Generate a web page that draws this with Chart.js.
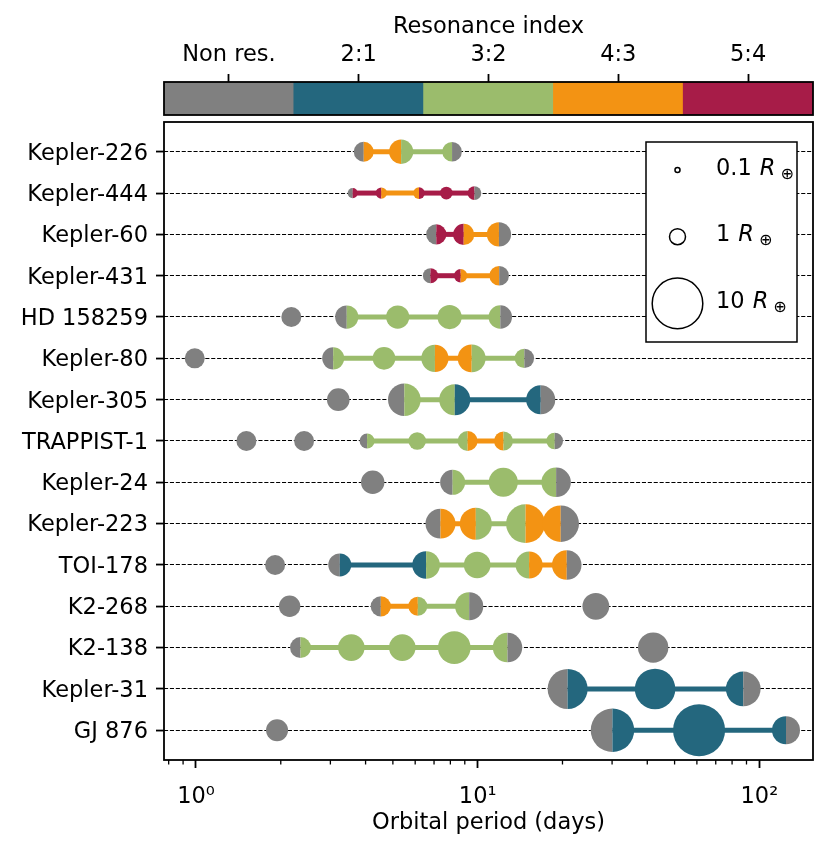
<!DOCTYPE html>
<html><head><meta charset="utf-8">
<script src="https://cdn.jsdelivr.net/npm/chart.js@4/dist/chart.umd.min.js"></script>
<style>
html,body{margin:0;padding:0;background:#fff;}
#wrap{position:relative;width:830px;height:850px;}
#main{position:absolute;left:0;top:0;}
#cbar{position:absolute;left:0;top:0;}
</style></head><body>
<div id="wrap"><canvas id="main" width="830" height="850"></canvas><canvas id="cbar" width="830" height="120"></canvas></div>
<script>
// ---- data ----
const systems = ['Kepler-226','Kepler-444','Kepler-60','Kepler-431','HD 158259','Kepler-80','Kepler-305','TRAPPIST-1','Kepler-24','Kepler-223','TOI-178','K2-268','K2-138','Kepler-31','GJ 876'];
const periods = [
  [3.94, 5.35, 8.11],
  [3.60, 4.55, 6.19, 7.74, 9.74],
  [7.13, 8.92, 11.90],
  [6.80, 8.70, 11.92],
  [2.18, 3.43, 5.20, 7.95, 12.03],
  [0.99, 3.07, 4.65, 7.05, 9.52, 14.65],
  [3.20, 5.49, 8.29, 16.74],
  [1.51, 2.42, 4.05, 6.10, 9.21, 12.35, 18.77],
  [4.24, 8.15, 12.33, 18.99],
  [7.38, 9.85, 14.79, 19.72],
  [1.91, 3.24, 6.56, 9.96, 15.23, 20.71],
  [2.15, 4.53, 6.13, 9.33, 26.27],
  [2.35, 3.56, 5.40, 8.26, 12.76, 41.97],
  [20.86, 42.63, 87.65],
  [1.94, 30.09, 61.08, 124.3]
];
// planet radii (Earth radii)
const radii = [
  [1.55, 2.3, 1.5],
  [0.40, 0.50, 0.53, 0.63, 0.74],
  [1.6, 1.75, 2.3],
  [0.9, 0.7, 1.5],
  [1.56, 2.1, 2.1, 2.3, 2.15],
  [1.56, 1.9, 2.0, 2.9, 3.05, 1.47],
  [2.0, 4.15, 3.75, 3.3],
  [1.56, 1.56, 0.88, 1.2, 1.56, 1.4, 1.08],
  [2.14, 2.44, 3.3, 3.4],
  [3.5, 4.0, 5.9, 5.2],
  [1.56, 2.07, 2.98, 2.76, 2.85, 3.4],
  [1.8, 1.6, 1.4, 3.1, 2.8],
  [1.72, 2.76, 2.76, 4.15, 3.4, 3.6],
  [6.25, 6.4, 4.7],
  [1.9, 7.4, 10.6, 3.06]
];
// resonance index of each adjacent pair: 0 non res, 1 2:1, 2 3:2, 3 4:3, 4 5:4
const pairRes = [
  [3,2],
  [4,3,4,4],
  [4,3],
  [4,3],
  [0,2,2,2],
  [0,2,2,3,2],
  [0,2,1],
  [0,0,2,2,3,2],
  [0,2,2],
  [3,2,3],
  [0,1,2,2,3],
  [0,3,2,0],
  [2,2,2,2,0],
  [1,1],
  [0,1,1]
];
const resLabels = ['Non res.','2:1','3:2','4:3','5:4'];
const resColors = ['#808080','#24677e','#9bbc6c','#f39313','#a71c48'];
const colorbarValues = [1,1,1,1,1];
const xTickValues = [1,10,100];
const xTickLabels = ['10\u2070','10\u00b9','10\u00b2'];
const xMinorTicks = [0.8,0.9,2,3,4,5,6,7,8,9,20,30,40,50,60,70,80,90];
const legendSizes = [0.1,1,10];
const legendLabels = ['0.1','1','10'];

// ---- styling helpers ----
const FONT = "'DejaVu Sans', sans-serif";
const FS = 22.5;
Chart.defaults.font.family = FONT;
Chart.defaults.font.size = FS;
Chart.defaults.color = '#000';
function radiusPx(R){ return 8*Math.sqrt(R); }

const planetPoints = [];
systems.forEach((s, si) => {
  const ps = periods[si];
  ps.forEach((p, pi) => {
    const left = pi > 0 ? pairRes[si][pi-1] : 0;
    const right = pi < ps.length-1 ? pairRes[si][pi] : 0;
    planetPoints.push({x: p, y: si, rad: radii[si][pi], left, right});
  });
});
const lineDatasets = [];
systems.forEach((s, si) => {
  pairRes[si].forEach((res, k) => {
    if (res > 0) {
      lineDatasets.push({
        type: 'line', showLine: true,
        data: [{x: periods[si][k], y: si}, {x: periods[si][k+1], y: si}],
        borderColor: resColors[res], borderWidth: 5, pointRadius: 0,
        fill: false, tension: 0, borderCapStyle: 'butt'
      });
    }
  });
});

const framePlugin = {id:'frame', afterDraw(chart){
  const {ctx, chartArea: ca} = chart;
  ctx.save(); ctx.strokeStyle = '#000'; ctx.lineWidth = 1.8;
  ctx.strokeRect(ca.left, ca.top, ca.right-ca.left, ca.bottom-ca.top);
  ctx.restore();
}};
const minorTicksPlugin = {id:'minorTicks', afterDraw(chart){
  const xs = chart.scales.x, ctx = chart.ctx, ca = chart.chartArea;
  ctx.save(); ctx.strokeStyle = '#000'; ctx.lineWidth = 1.3;
  xMinorTicks.forEach(v => {
    const px = xs.getPixelForValue(v);
    if (px < ca.left || px > ca.right) return;
    ctx.beginPath(); ctx.moveTo(px, ca.bottom); ctx.lineTo(px, ca.bottom + 4.5); ctx.stroke();
  });
  ctx.restore();
}};
const planetPlugin = {id:'planets', afterDatasetsDraw(chart){
  const meta = chart.getDatasetMeta(0);
  const ctx = chart.ctx;
  ctx.save();
  meta.data.forEach((el, i) => {
    const p = planetPoints[i];
    const r = el.options.radius;
    if (p.left === p.right) {
      ctx.fillStyle = resColors[p.left];
      ctx.beginPath(); ctx.arc(el.x, el.y, r, 0, 2*Math.PI); ctx.fill();
    } else {
      ctx.fillStyle = resColors[p.left];
      ctx.beginPath(); ctx.moveTo(el.x, el.y); ctx.arc(el.x, el.y, r, Math.PI/2, Math.PI*1.5); ctx.closePath(); ctx.fill();
      ctx.fillStyle = resColors[p.right];
      ctx.beginPath(); ctx.moveTo(el.x, el.y); ctx.arc(el.x, el.y, r, -Math.PI/2, Math.PI/2); ctx.closePath(); ctx.fill();
    }
  });
  ctx.restore();
}};
const legendPlugin = {id:'sizeLegend', afterDraw(chart){
  const {ctx, chartArea: ca} = chart;
  const bx = ca.right - 167, by = ca.top + 20, bw = 151, bh = 200;
  ctx.save();
  ctx.fillStyle = '#fff'; ctx.fillRect(bx, by, bw, bh);
  ctx.strokeStyle = '#000'; ctx.lineWidth = 1.5; ctx.strokeRect(bx, by, bw, bh);
  legendSizes.forEach((R, i) => {
    const cx = bx + 31.5, cy = by + 28 + i*66.7;
    ctx.beginPath(); ctx.arc(cx, cy, radiusPx(R), 0, 2*Math.PI);
    ctx.lineWidth = 1.5; ctx.strokeStyle = '#000'; ctx.stroke();
    let tx = bx + 70; const base = cy + 4.5;
    ctx.fillStyle = '#000'; ctx.textAlign = 'left'; ctx.textBaseline = 'alphabetic';
    ctx.font = FS + "px " + FONT; ctx.fillText(legendLabels[i], tx, base);
    tx += ctx.measureText(legendLabels[i]).width + 8;
    ctx.font = "italic " + FS + "px " + FONT; ctx.fillText('R', tx, base);
    tx += ctx.measureText('R').width + 5;
    ctx.font = "16px " + FONT; ctx.fillText('\u2295', tx, base + 4);
  });
  ctx.restore();
}};

new Chart(document.getElementById('main'), {
  type: 'scatter',
  data: {datasets: [
    {type: 'scatter', data: planetPoints, pointRadius: c => radiusPx(c.raw.rad),
     backgroundColor: 'rgba(0,0,0,0)', borderWidth: 0, pointHoverRadius: 0},
    ...lineDatasets
  ]},
  options: {
    responsive: false, animation: false, events: [],
    layout: {autoPadding: false, padding: {left: 0, right: 17, top: 122, bottom: 0}},
    plugins: {legend: {display: false}, tooltip: {enabled: false}},
    scales: {
      x: {type: 'logarithmic', position: 'bottom', min: 0.77, max: 155,
        afterBuildTicks: a => { a.ticks = xTickValues.map(v => ({value: v})); },
        afterFit: a => { a.height = 90; a.paddingLeft = 0; a.paddingRight = 0; },
        ticks: {autoSkip: false, maxRotation: 0, padding: 16, color: '#000', font: {size: FS},
          callback: v => xTickLabels[xTickValues.indexOf(v)]},
        grid: {drawOnChartArea: false, drawTicks: true, tickLength: 8, tickWidth: 1.8, tickColor: '#000'},
        border: {display: false},
        title: {display: true, text: 'Orbital period (days)', color: '#000', font: {size: FS}, padding: {top: 0, bottom: 13}}
      },
      y: {type: 'linear', reverse: true, min: -0.72, max: 14.72,
        afterBuildTicks: a => { a.ticks = systems.map((_, i) => ({value: i})); },
        afterFit: a => { a.width = 164; a.paddingTop = 0; a.paddingBottom = 0; },
        ticks: {autoSkip: false, padding: 8, labelOffset: 2, color: '#000', font: {size: FS}, callback: v => systems[v]},
        grid: {color: '#000', lineWidth: 1.1, drawTicks: true, tickLength: 8, tickWidth: 1.8, tickColor: '#000'},
        border: {display: false, dash: [4.1, 1.8]}
      }
    }
  },
  plugins: [planetPlugin, minorTicksPlugin, legendPlugin, framePlugin]
});

new Chart(document.getElementById('cbar'), {
  type: 'bar',
  data: {labels: resLabels, datasets: [{data: colorbarValues, backgroundColor: resColors, borderWidth: 0, barPercentage: 1, categoryPercentage: 1}]},
  options: {
    responsive: false, animation: false, events: [],
    layout: {autoPadding: false, padding: {left: 164, right: 17, top: 0, bottom: 5}},
    plugins: {legend: {display: false}, tooltip: {enabled: false}},
    scales: {
      x: {position: 'top', afterFit: a => { a.height = 82; a.paddingLeft = 0; a.paddingRight = 0; },
        ticks: {padding: 5, color: '#000', font: {size: FS}, maxRotation: 0, autoSkip: false},
        grid: {drawOnChartArea: false, offset: false, tickLength: 8, tickWidth: 1.8, tickColor: '#000'},
        border: {display: false},
        title: {display: true, text: 'Resonance index', color: '#000', font: {size: FS}, padding: {top: 14, bottom: 0}}
      },
      y: {display: false, min: 0, max: 1}
    }
  },
  plugins: [framePlugin]
});
</script>
</body></html>
